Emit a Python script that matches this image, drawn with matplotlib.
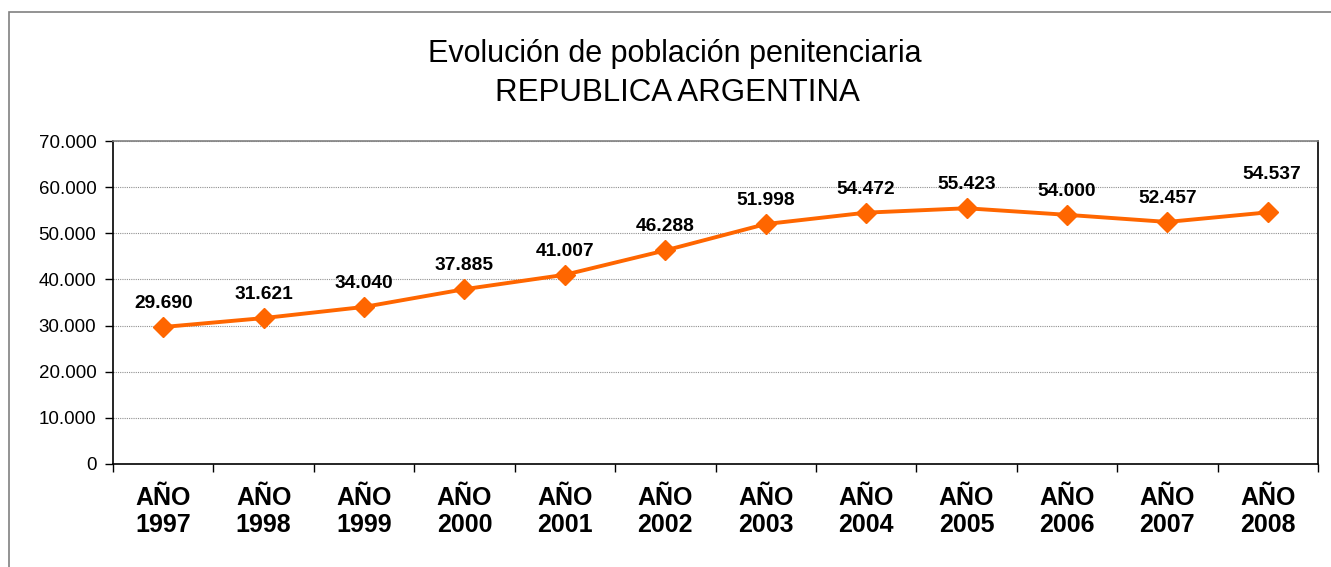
import matplotlib
matplotlib.use('Agg')
import matplotlib.pyplot as plt
from matplotlib.ticker import FuncFormatter, MultipleLocator

# --- Data ---
years = ["1997", "1998", "1999", "2000", "2001", "2002",
         "2003", "2004", "2005", "2006", "2007", "2008"]
population = [29690, 31621, 34040, 37885, 41007, 46288,
              51998, 54472, 55423, 54000, 52457, 54537]

ORANGE = "#FF6600"


def fmt_thousands(v, pos=None):
    # Spanish style: dot as thousands separator
    return f"{int(round(v)):,}".replace(",", ".")


plt.rcParams['font.family'] = ['Liberation Sans', 'DejaVu Sans']

fig = plt.figure(figsize=(13.31, 5.67), dpi=100)

# outer chart frame (runs off right/bottom edge)
frame = plt.Rectangle((9 / 1331, -0.1), 1.2, 1 - 12 / 567 + 0.1,
                      transform=fig.transFigure, fill=False,
                      edgecolor="#808080", linewidth=1.2)
fig.patches.append(frame)

ax = fig.add_axes([113 / 1331, 1 - 464 / 567, (1318 - 113) / 1331, (464 - 141) / 567])

x = list(range(len(years)))
ax.plot(x, population, color=ORANGE, linewidth=2.8, marker="D",
        markersize=10, markerfacecolor=ORANGE, markeredgecolor=ORANGE, zorder=3)

for xi, v in zip(x, population):
    # last label sits a bit higher / to the right in the original
    dx, dy = (3, 27) if xi == len(x) - 1 else (0, 17)
    ax.annotate(fmt_thousands(v), (xi, v), xytext=(dx, dy), textcoords="offset points",
                ha="center", va="center", fontsize=13.8, fontweight="bold")

ax.set_xlim(-0.5, len(years) - 0.5)
ax.set_ylim(0, 70000)
ax.yaxis.set_major_locator(MultipleLocator(10000))
ax.yaxis.set_major_formatter(FuncFormatter(fmt_thousands))
ax.grid(axis="y", color="#909090", linestyle=(0, (1, 1)), linewidth=0.8)
ax.set_axisbelow(True)

# category labels centered, ticks between categories
ax.set_xticks(x)
ax.set_xticklabels([f"AÑO\n{y}" for y in years], fontsize=18, fontweight="bold",
                   linespacing=1.15)
ax.tick_params(axis="x", length=0, pad=16)
ax.set_xticks([i - 0.5 for i in range(len(years) + 1)], minor=True)
ax.tick_params(axis="x", which="minor", length=6, width=1, direction="out")
ax.tick_params(axis="y", length=6, width=1, direction="out", labelsize=13.5, pad=6)

for side in ("left", "bottom", "right"):
    ax.spines[side].set_color("black")
    ax.spines[side].set_linewidth(1.2)
ax.spines["top"].set_color("#808080")
ax.spines["top"].set_linewidth(1.2)

fig.text(675 / 1331, 1 - 54 / 567, "Evolución de población penitenciaria",
         ha="center", va="center", fontsize=22)
fig.text(677 / 1331, 1 - 93 / 567, "REPUBLICA ARGENTINA",
         ha="center", va="center", fontsize=22.5)

fig.savefig("out.png", dpi=100)
